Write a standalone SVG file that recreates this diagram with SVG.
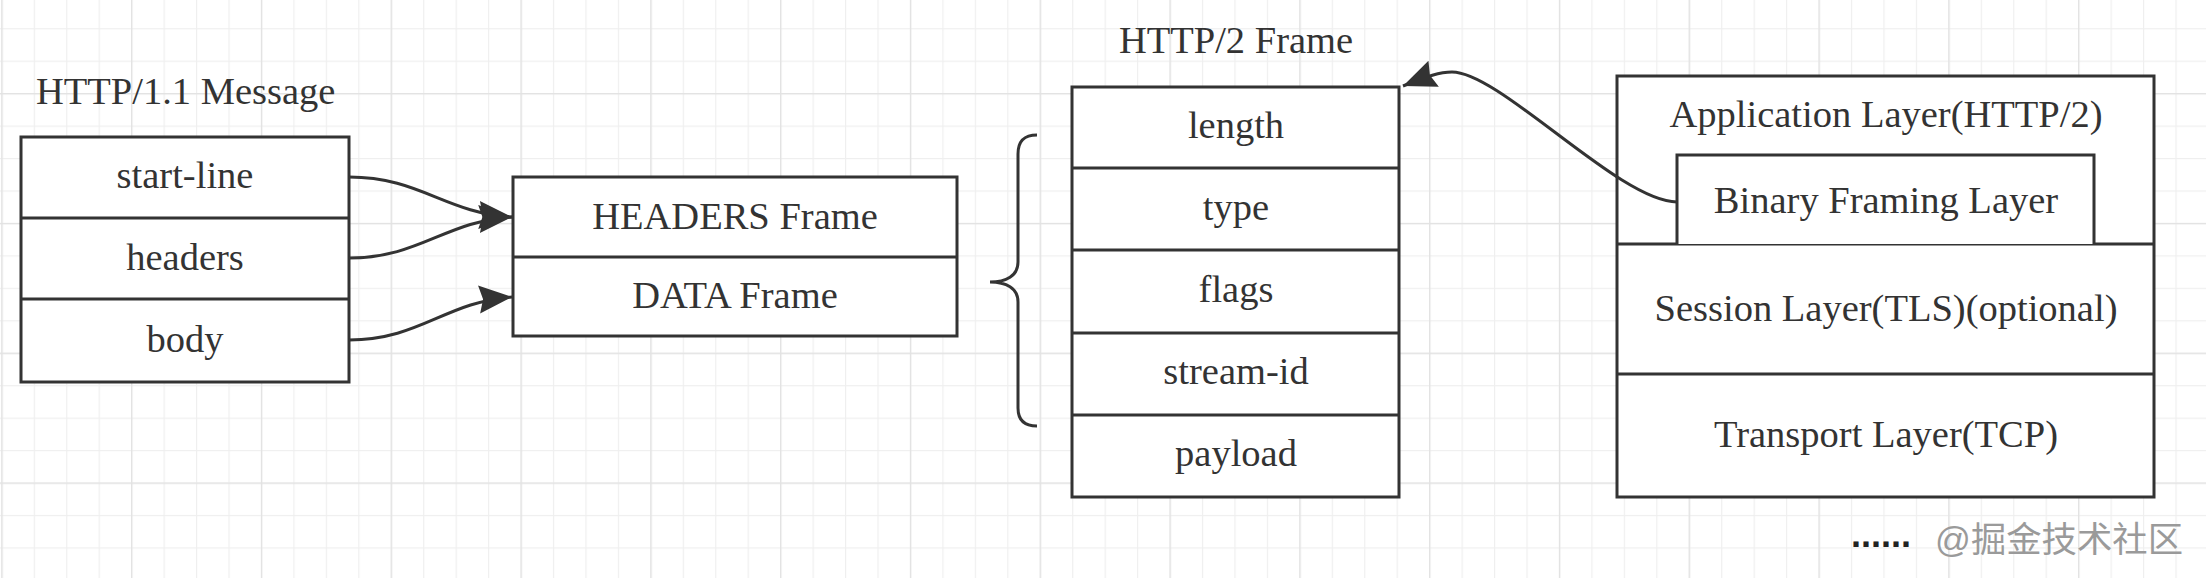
<svg xmlns="http://www.w3.org/2000/svg" width="2206" height="578" viewBox="0 0 2206 578">
<style>
.box{fill:#fff;stroke:#333;stroke-width:3}
.div{stroke:#333;stroke-width:3;fill:none}
.t{font-family:"Liberation Serif","Times New Roman",serif;font-size:38.5px;fill:#333;text-anchor:middle}
.edge{fill:none;stroke:#333;stroke-width:3}
</style>
<defs>
<marker id="arr" markerUnits="userSpaceOnUse" markerWidth="40" markerHeight="34" refX="33" refY="14" orient="auto" viewBox="0 0 40 34">
<path d="M0,0 L33,14 L0,28 L4,14 Z" fill="#333"/>
</marker>
<pattern id="minor" patternUnits="userSpaceOnUse" x="1.3" y="28.2" width="32.45" height="32.45">
<rect x="0" y="0" width="1.2" height="32.45" fill="#efefef"/>
<rect x="0" y="0" width="32.45" height="1.2" fill="#efefef"/>
</pattern>
<pattern id="major" patternUnits="userSpaceOnUse" x="1.3" y="93.1" width="129.8" height="129.8">
<rect x="0" y="0" width="1.3" height="129.8" fill="#e2e2e2"/>
<rect x="0" y="0" width="129.8" height="1.3" fill="#e2e2e2"/>
</pattern>
</defs>
<rect width="2206" height="578" fill="#fff"/>
<rect width="2206" height="578" fill="url(#minor)"/>
<rect width="2206" height="578" fill="url(#major)"/>

<g id="http11-message">
<text class="t" x="36" y="104" style="text-anchor:start">HTTP/1.1 Message</text>
<rect class="box" x="21" y="137" width="328" height="245"/>
<line class="div" x1="21" y1="218" x2="349" y2="218"/>
<line class="div" x1="21" y1="299" x2="349" y2="299"/>
<text class="t" x="185" y="188">start-line</text>
<text class="t" x="185" y="270">headers</text>
<text class="t" x="185" y="352">body</text>
</g>

<g id="http2-frames">
<rect class="box" x="513" y="177" width="444" height="159"/>
<line class="div" x1="513" y1="257" x2="957" y2="257"/>
<text class="t" x="735" y="229">HEADERS Frame</text>
<text class="t" x="735" y="308">DATA Frame</text>
</g>

<g id="brace">
<path class="edge" d="M1037,135 C1024,135 1018,141 1018,154 L1018,262 C1018,276 1006,282 990,282 C1006,282 1018,288 1018,302 L1018,408 C1018,420 1024,426 1037,426"/>
</g>

<g id="http2-frame">
<text class="t" x="1236" y="53">HTTP/2 Frame</text>
<rect class="box" x="1072" y="87" width="327" height="410"/>
<line class="div" x1="1072" y1="168" x2="1399" y2="168"/>
<line class="div" x1="1072" y1="250" x2="1399" y2="250"/>
<line class="div" x1="1072" y1="333" x2="1399" y2="333"/>
<line class="div" x1="1072" y1="415" x2="1399" y2="415"/>
<text class="t" x="1236" y="138">length</text>
<text class="t" x="1236" y="220">type</text>
<text class="t" x="1236" y="302">flags</text>
<text class="t" x="1236" y="384">stream-id</text>
<text class="t" x="1236" y="466">payload</text>
</g>

<g id="layers">
<rect class="box" x="1617" y="76" width="537" height="421"/>
<line class="div" x1="1617" y1="244" x2="2154" y2="244"/>
<line class="div" x1="1617" y1="374" x2="2154" y2="374"/>
<text class="t" x="1886" y="127">Application Layer(HTTP/2)</text>
<text class="t" x="1886" y="321">Session Layer(TLS)(optional)</text>
<text class="t" x="1886" y="447">Transport Layer(TCP)</text>
</g>

<g id="binary-framing">
<path class="box" d="M1677,244 L1677,155 L2094,155 L2094,244"/>
<text class="t" x="1886" y="213">Binary Framing Layer</text>
</g>

<g id="connectors">
<path class="edge" d="M349,177 C420,177 445,213 512,217" marker-end="url(#arr)"/>
<path class="edge" d="M349,258 C420,258 445,221 512,217" marker-end="url(#arr)"/>
<path class="edge" d="M349,340 C420,340 445,302 512,297" marker-end="url(#arr)"/>
<path class="edge" d="M1677,202 C1620,202 1500,72 1452,72 C1440,72 1428,76 1403,86" marker-end="url(#arr)"/>
</g>

<g id="watermark">
<text x="1851" y="547" style="font-family:'Liberation Sans',Arial,sans-serif;font-size:36px;font-weight:bold;fill:#222">......</text>
<text x="1935" y="552" textLength="248" lengthAdjust="spacingAndGlyphs" style="font-family:'Liberation Sans','Noto Sans CJK SC',sans-serif;font-size:35px;fill:#9a9a9a">@掘金技术社区</text>
</g>
</svg>
